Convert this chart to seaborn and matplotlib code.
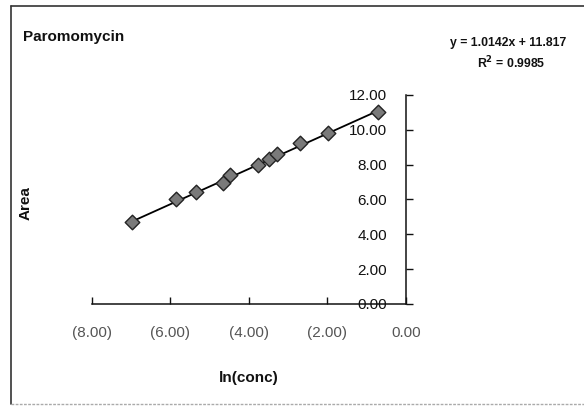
import numpy as np
import pandas as pd
import matplotlib
matplotlib.use("Agg")
import matplotlib.pyplot as plt
from matplotlib.ticker import FuncFormatter, MultipleLocator
from matplotlib.lines import Line2D
import seaborn as sns

# ---- data ----
ln_conc = [-6.97, -5.86, -5.35, -4.65, -4.48, -3.78, -3.50, -3.29, -2.69, -1.99, -0.71]
area = [4.73, 6.02, 6.42, 6.94, 7.41, 7.99, 8.32, 8.63, 9.24, 9.81, 11.05]
slope = 1.0142
intercept = 11.817
r_squared = 0.9985
title = "Paromomycin"
x_label = "ln(conc)"
y_label = "Area"

df = pd.DataFrame({"x": ln_conc, "y": area})
xs = np.array([min(ln_conc), max(ln_conc)])
fit = pd.DataFrame({"x": xs, "y": slope * xs + intercept})

sns.set_style("white")
plt.rcParams["font.family"] = ["Liberation Sans", "DejaVu Sans"]

fig = plt.figure(figsize=(5.84, 4.07), dpi=100)
ax = fig.add_axes([0.1575, 0.2531, 0.5377, 0.5135])

sns.lineplot(data=fit, x="x", y="y", ax=ax, color="black", lw=1.3)
sns.scatterplot(data=df, x="x", y="y", ax=ax, marker="D", s=55,
                color="#7a7a7a", edgecolor="#222222", linewidth=1.0, zorder=5)

ax.set_xlim(-8, 0)
ax.set_ylim(0, 12)
ax.xaxis.set_major_locator(MultipleLocator(2))
ax.yaxis.set_major_locator(MultipleLocator(2))

def fmt(v, pos):
    if v < 0:
        return "({:.2f})".format(-v)
    return "{:.2f}".format(v)

ax.xaxis.set_major_formatter(FuncFormatter(fmt))
ax.yaxis.set_major_formatter(FuncFormatter(fmt))

for s in ["top", "right"]:
    ax.spines[s].set_visible(False)
ax.spines["left"].set_position(("data", 0))
ax.spines["left"].set_color("#111111")
ax.spines["bottom"].set_color("#111111")
ax.spines["left"].set_linewidth(1.1)
ax.spines["bottom"].set_linewidth(1.1)

ax.tick_params(axis="y", direction="in", length=5, width=1, pad=13.5,
               labelsize=11, colors="#111111", left=True)
ax.tick_params(axis="x", direction="in", length=5, width=1, pad=16,
               labelsize=11, colors="#111111", bottom=True)
for lab in ax.get_xticklabels():
    lab.set_color("#555555")
ax.get_xticklabels()[-1].set_color("#111111")

ax.set_xlabel(x_label, fontsize=11, fontweight="bold", color="#111111")
ax.xaxis.set_label_coords(0.5, -0.32)
ax.set_ylabel(y_label, fontsize=11, fontweight="bold", color="#111111")
ax.yaxis.set_label_coords(-0.188, 0.483)

fig.text(0.0394, 0.909, title, fontsize=11, fontweight="bold", ha="left", va="center", color="#111111")
fig.text(0.870, 0.894, "y = {:.4f}x + {:.3f}".format(slope, intercept), fontsize=8.8,
         fontweight="bold", ha="center", va="center", color="#111111")
fig.text(0.875, 0.845, "R$^\\mathbf{{2}}$ = {:.4f}".format(r_squared), fontsize=8.8,
         fontweight="bold", ha="center", va="center", color="#111111")

# chart-area frame (right side runs past the image edge)
x0, x1 = 11 / 584, 1.02
yt, yb = 1 - 6 / 407, 1 - 404 / 407
fig.add_artist(Line2D([x0, x1], [yt, yt], transform=fig.transFigure, color="#333333", lw=1.2))
fig.add_artist(Line2D([x0, x0], [yb, yt], transform=fig.transFigure, color="#333333", lw=1.2))
fig.add_artist(Line2D([x0, x1], [yb, yb], transform=fig.transFigure, color="#aaaaaa", lw=1.0,
                      linestyle=(0, (2, 1))))

fig.savefig("out.png", dpi=100)
